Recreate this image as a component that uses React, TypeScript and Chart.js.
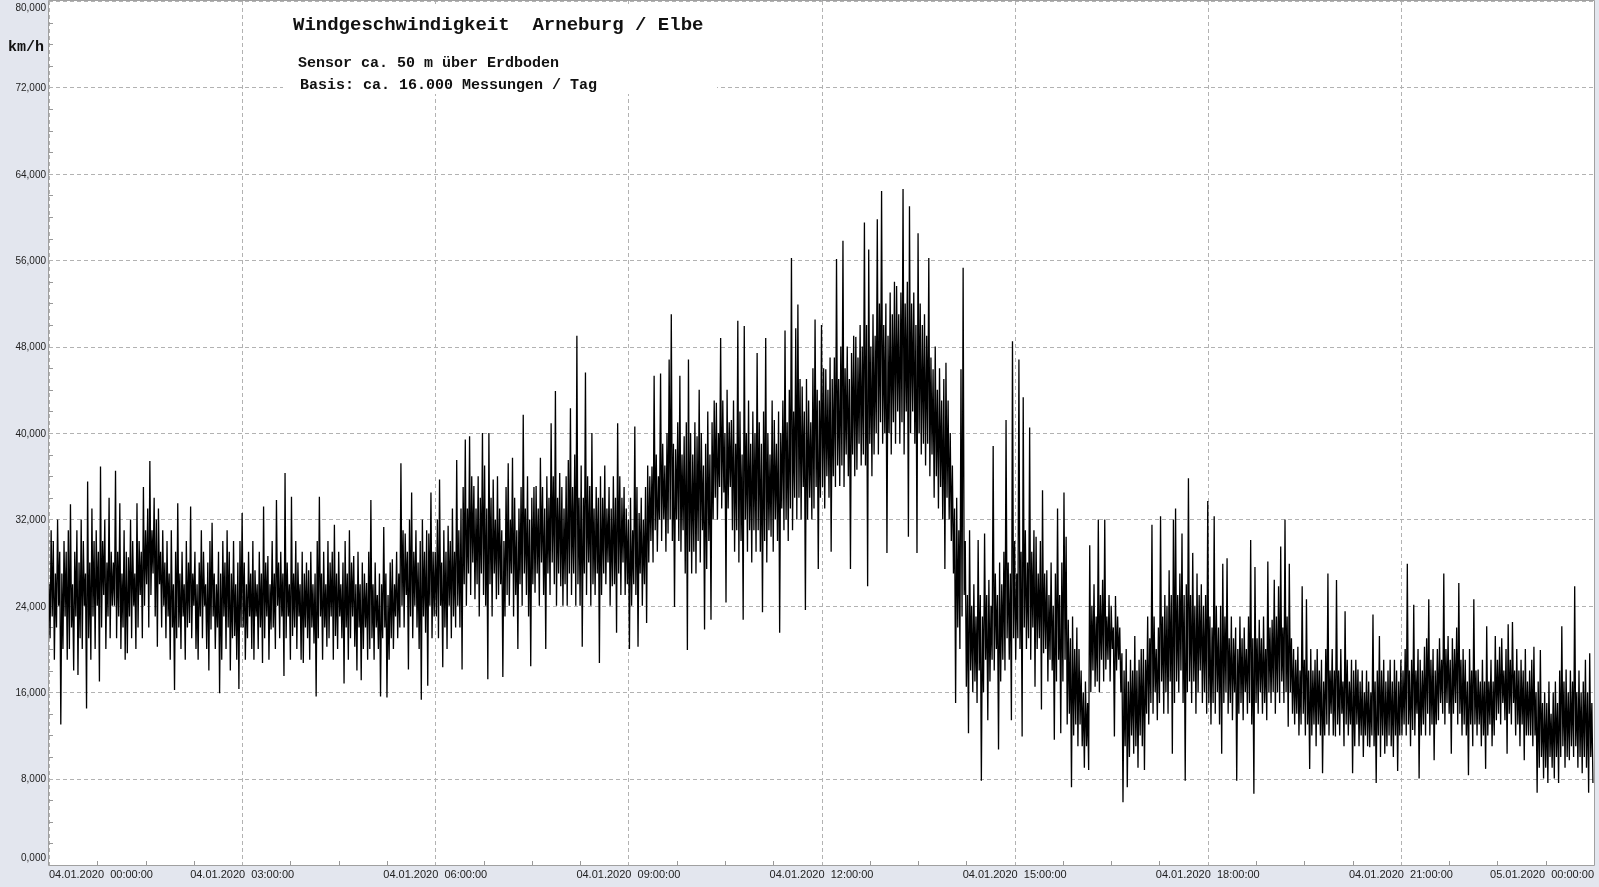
import React, { useEffect, useRef } from "react";
import { Chart, registerables } from "chart.js";

Chart.register(...registerables);

// ---- Data (km/h), one value per minute ----
// each hour: 60 samples (gust peak / lull pairs within each 2-minute slot)
const SAMPLE_STEP_MIN = 1;

const H00 = [26,21, 31,23, 30,19, 27,22, 32,24, 29,13, 27,20, 30,23, 29,19, 31,20, 33.4,22, 26,18, 29,23, 31,17.6, 28,21, 32,20, 30,24, 27,14.5, 35.5,21, 28,19, 33,23, 30,20, 31,24, 29,17, 36.9,22, 30,25, 32,20, 28,23, 34,21, 29,24];
const H01 = [28,24, 36.5,21, 29,23, 33.5,20, 27,22, 31,19, 29,19.6, 28.5,23, 32,21, 30,24, 27,20, 33.5,22, 30,25, 29,21, 35,24, 31,26, 33,22, 37.4,25, 31,27, 34,23, 32,20.2, 33,26, 29,22, 31,24, 28,21, 30,23, 27,19, 31,22, 26,16.2, 29,21];
const H02 = [33.5,22, 27,20, 29,23, 26,19, 30,22, 28,22.4, 33.2,21, 27,24, 29,20, 26,19, 28,23, 31,21, 29,24, 26,20, 28,18, 30,21.8, 31.7,23, 27,20, 26,22, 29,15.9, 27,19, 30,23, 28,20, 31,22, 29,18, 27,21, 30,21.2, 26,19, 28,16.3, 30,22];
const H03 = [32.6,22, 28,19, 26,21, 29,23, 27,20, 30,19, 27.3,23, 26,20, 29,22, 27,18.7, 33.2,21, 28,23, 28.6,19, 26,21.8, 30,22, 27,20, 33.8,24, 28,21, 29,23, 27,17.5, 36.3,21, 28,23, 26,19, 34.1,21.2, 27,22, 30,20, 28,23, 26,19, 29,18.7, 27,22];
const H04 = [28,21, 27.3,19, 29,22, 26,20.5, 27,15.6, 30,21, 34.1,23, 27,19, 29,22, 26,20.2, 30,21, 28,23, 29,19, 31.5,21.2, 27,20, 29,23, 26,21, 28,16.8, 30,22, 27,19, 31,21, 28,23, 28.6,20.2, 26,18, 29,22, 26,17.1, 28,20, 27,22, 26.1,19, 29,20];
const H05 = [33.8,21, 26,19, 28,22, 25,20, 27,15.6, 26,21, 31.3,22, 27,15.5, 25,19, 28,21, 28.3,20, 26,23, 29,21, 27,22, 37.2,24, 31,22, 30.7,25, 29,18.1, 32,23, 34.5,21, 29,24, 31,22, 28,20, 30,15.3, 32,23, 29,21.5, 31,16.6, 30.7,24, 34.5,21, 29,23];
const H06 = [29,23, 32,21, 35.7,24, 28,18.3, 31,22, 29,20, 31.4,24, 30,21, 33,23, 29,22, 37.5,24, 31,22, 33,18.1, 35,26, 39.4,24, 33,27, 39.7,25, 36,28, 35.1,24.6, 33,26, 36,23, 34,27, 40,25, 37,24, 33,17.2, 40,26, 34,23, 35.7,27, 32,24.6, 36,25];
const H07 = [33,26, 31,17.4, 30,23, 35,25, 37.2,24, 32,27, 37.7,23, 34,25, 31,20, 33,26, 35,24, 41.7,27, 33,25, 36,23, 32,18.4, 34,26, 35,25.2, 35.1,27, 33,24, 37.7,28, 35,25, 33,20, 36,27, 34,25, 40.9,28, 36,26, 43.9,24, 34,27, 36.3,25.8, 35,24];
const H08 = [33,26, 36,24, 37.5,27, 42.3,25, 35,27, 38,24, 49,26, 34,24, 37,20.2, 34,27, 45.6,25, 36,28, 35.1,24, 40,26, 33,25, 35,27, 34,18.7, 36,25, 34,27, 37,26, 33,28, 35,24, 33,25.8, 36,26, 34,21.5, 40.9,27, 36,25, 34,28, 35,25, 33,26];
const H09 = [32,20, 34,24, 31,26, 40.6,25, 35,20.2, 32.6,27, 34,24, 32,26, 35,22.4, 37,28, 36,30, 36.9,28, 45.3,31, 38,29, 36,32, 45.5,30, 39,32, 37,29, 40,30.7, 46.8,32, 51,30, 39,23.9, 38.5,32, 41,30, 45.3,29, 38,31, 39.7,27, 41,19.9, 46.8,29, 40,27];
const H10 = [38,29, 41,27, 39.7,30, 44,28, 40,31, 37,21.8, 39,27.4, 42,30, 38,22.7, 41,32, 43,34, 42.8,32, 40,35, 48.8,33, 43,34.5, 40,24.3, 44,33, 41,35, 41.2,31, 43,29, 39,31, 50.4,28, 42,30, 38,22.7, 49.9,32, 40,29, 43,31, 39,28, 42,31, 40,29];
const H11 = [47.4,31, 41,29, 39,23.4, 42,30, 48.8,28, 40,31, 38,30.4, 43,29, 41.2,32, 39,30, 42,21.5, 40,33, 43,31, 49.5,32, 41,30, 44,33, 56.2,31, 42,34, 49.7,32, 51.9,34, 45,32, 44.3,35, 42,23.6, 45,32, 43,34, 41,32, 46,33, 50.5,35, 44,27.4, 43,34];
const H12 = [50,35, 46,33, 45.9,36, 44,34, 47,29, 45,36, 47,35, 56.1,37, 45,35.1, 48,37, 57.8,35, 46,38, 48,36, 45,27.4, 47.4,38, 49,36, 48.9,36.6, 47,39, 50,37, 48,38, 59.5,37, 50,25.8, 57,39, 48,36, 51,38, 49,40, 59.8,38, 52,41, 62.4,39, 50,40];
const H13 = [52,28.9, 49,40, 53,38, 51,41, 54,39, 53.6,42, 51,39, 53,41, 62.6,38, 52,42, 54,30.4, 61,40, 52,42, 53,39, 50,28.9, 58.5,40, 52,38, 50,39, 51,37, 49,39, 56.2,36, 47,38, 45.9,34, 48,36, 44,33, 46,35, 43,32, 45,27.4, 46.5,34, 43,32];
const H14 = [40,30, 37,27, 33,15, 34,22, 31,20, 45.9,23, 55.3,25, 30,16.5, 25,12.2, 31,18, 24,16, 26,17, 23,15, 30.1,18, 25,7.8, 23,16, 30.7,19, 25,13.4, 26.4,17, 24,19, 38.8,18, 27,20, 25,10.7, 28,17, 26,19, 29,18, 41.2,21, 28,19, 27,13.4, 48.5,21];
const H15 = [30,19, 27,21, 46.8,20, 29,11.9, 43.3,22, 31,20, 28,21, 40.5,19, 29,22, 31,16.5, 30.4,20, 27,21, 30,14.4, 34.7,19.6, 27,20, 27.3,17, 25,19, 28,18, 24,11.6, 27,17, 33,19, 25,12.2, 28,17, 34.5,19, 30.4,13, 22.7,14, 21,7.2, 23,12, 20,13, 22,11];
const H16 = [20,13, 18,11, 16,9, 17,11, 15,8.8, 29.6,16, 24,18, 26,16.5, 23,17, 32,16, 25,19, 26.4,17, 32,18.1, 23,19, 25,17, 24,20, 22,11.9, 24.9,18, 23,19, 22,16, 19.6,5.8, 18,11, 20,7.2, 17,10, 19,12, 18,10.3, 21.2,11, 18,9, 19,12, 20,11];
const H17 = [20,8.8, 19,14, 23,13, 21,15, 31.5,14, 23,16, 20,13.4, 22,15, 32.3,17, 23,14, 25,16, 24,14, 27.3,17, 25,10.3, 32,15, 33,17, 25,16, 27,18, 30.7,15, 25,7.8, 26,16, 35.8,17, 25,15, 28.9,17, 24,14, 27,16, 25,18, 26,15, 24,16, 25,14];
const H18 = [33.7,15, 23,13, 22,15, 32.3,14, 24,16, 22,13, 24,10.3, 27.9,15, 23,16, 28.4,14, 21,15, 23,13.4, 21,16, 22,7.8, 20,14, 23,15, 21,13.4, 22,16, 20,14, 23,15, 30.1,13, 21,6.6, 27.6,15, 21,14, 22.7,16, 21,14, 23,15, 20,13.4, 28.1,16, 22,15];
const H19 = [22.7,16, 26.4,14, 23,16, 25.8,15, 29.5,17, 22,15, 32,16, 23,12.8, 27.9,16, 21,14, 20,13, 19,14, 20.2,12, 18,13, 25.8,14, 19,12, 24.6,13, 18,8.9, 20,12, 18,13, 19,11, 20,13, 18,12, 19,8.5, 17,12, 20,13, 27,12, 18,14, 20,12, 18,11.9];
const H20 = [26.4,13, 18,12, 20,14, 17,11, 23.5,13, 19,12, 17,13, 19,8.5, 18,11, 19,13, 18.1,11, 17,12, 18,10, 16,12, 18,11, 17,10.9, 16,12, 23.2,11, 17,7.6, 18,12, 21.2,10, 18,12, 19,10.3, 17,11, 18,12, 19,11, 17,10, 19,12, 18,8.7, 17,12];
const H21 = [19,12, 18,13, 20,12, 27.9,13, 18,11, 19,12.5, 24.1,12, 18,14, 20,8, 19,12, 18,13, 20.2,12, 21,14, 24.6,12, 19,13, 20,9.7, 18,13, 20,13.4, 21,15, 19,14, 27,13, 20,15, 21.2,14, 19,10.3, 21,14, 20,15, 22,13, 26.1,14, 19,12, 20,13];
const H22 = [19,12, 17,8.3, 20,13, 18,11, 24.6,13, 18,12, 18.1,13, 17,11, 19,12, 17,8.9, 22.1,12, 17,13, 19,11, 17,12, 21.2,13.4, 19,14, 20.2,13, 21,15, 18,13.4, 20,10.3, 22.3,14, 19,13, 22.5,15, 18,12, 20,13, 18,11, 19,13, 18,9.7, 20,12, 17,12];
const H23 = [18,12, 19,11, 20.2,12, 16,6.7, 17,9, 19.9,10, 15,8, 16,9, 15,7.6, 17,10, 14,9, 16,8, 17,10, 15,7.6, 18,10, 22.1,11, 17,9, 18.1,10, 16,9.7, 18,11, 17,10, 25.8,11, 16,9, 18,10, 16,8.5, 17,10, 19,9, 16,6.7, 19.6,10, 15,7.6];

const SPEED_KMH = [
  ...H00, ...H01, ...H02, ...H03, ...H04, ...H05, ...H06, ...H07,
  ...H08, ...H09, ...H10, ...H11, ...H12, ...H13, ...H14, ...H15,
  ...H16, ...H17, ...H18, ...H19, ...H20, ...H21, ...H22, ...H23,
];

// ---- Axes / texts ----
const X_TICK_MINUTES = [0, 180, 360, 540, 720, 900, 1080, 1260, 1440];
const X_TICK_LABELS = [
  "04.01.2020  00:00:00",
  "04.01.2020  03:00:00",
  "04.01.2020  06:00:00",
  "04.01.2020  09:00:00",
  "04.01.2020  12:00:00",
  "04.01.2020  15:00:00",
  "04.01.2020  18:00:00",
  "04.01.2020  21:00:00",
  "05.01.2020  00:00:00",
];
const Y_TICK_VALUES = [0, 8, 16, 24, 32, 40, 48, 56, 64, 72, 80];
const Y_MINOR_STEP = 2;
const X_MINOR_STEP_MIN = 45;

const TITLE = "Windgeschwindigkeit  Arneburg / Elbe";
const SUBTITLE_1 = "Sensor ca. 50 m über Erdboden";
const SUBTITLE_2 = "Basis: ca. 16.000 Messungen / Tag";
const UNIT = "km/h";

const PAGE_BG = "#e3e6ee";
const GRID = "#b2b2b2";
const AXIS = "#a0a0a0";
const MONO = "'Liberation Mono', 'Courier New', monospace";
const SANS = "'Liberation Sans', Arial, sans-serif";

const fmtY = (v: number) => v.toFixed(3).replace(".", ",");

const decorPlugin = {
  id: "decor",
  beforeDraw(chart: any) {
    const { ctx, chartArea: a, width, height } = chart;
    ctx.save();
    ctx.fillStyle = PAGE_BG;
    ctx.fillRect(0, 0, width, height);
    ctx.fillStyle = "#ffffff";
    ctx.fillRect(a.left, a.top, a.right - a.left, a.bottom - a.top);
    ctx.restore();
  },
  beforeDatasetsDraw(chart: any) {
    const { ctx, chartArea: a } = chart;
    const x = chart.scales.x;
    const y = chart.scales.y;
    ctx.save();
    ctx.lineWidth = 1;
    ctx.strokeStyle = GRID;
    ctx.setLineDash([4, 3]);
    for (const v of Y_TICK_VALUES) {
      const py = Math.round(y.getPixelForValue(v)) + 0.5;
      ctx.beginPath();
      ctx.moveTo(a.left, py);
      ctx.lineTo(a.right, py);
      ctx.stroke();
    }
    for (const m of X_TICK_MINUTES) {
      const px = Math.round(x.getPixelForValue(m)) + 0.5;
      ctx.beginPath();
      ctx.moveTo(px, a.top);
      ctx.lineTo(px, a.bottom);
      ctx.stroke();
    }
    ctx.setLineDash([]);
    ctx.strokeStyle = "#999999";
    for (let v = 0; v <= 80; v += Y_MINOR_STEP) {
      if (Y_TICK_VALUES.includes(v)) continue;
      const py = Math.round(y.getPixelForValue(v)) + 0.5;
      ctx.beginPath();
      ctx.moveTo(a.left, py);
      ctx.lineTo(a.left + 4, py);
      ctx.stroke();
    }
    for (let m = 0; m <= 1440; m += X_MINOR_STEP_MIN) {
      if (X_TICK_MINUTES.includes(m)) continue;
      const px = Math.round(x.getPixelForValue(m)) + 0.5;
      ctx.beginPath();
      ctx.moveTo(px, a.bottom);
      ctx.lineTo(px, a.bottom - 4);
      ctx.stroke();
    }
    // title block
    ctx.fillStyle = "#ffffff";
    ctx.fillRect(283, 4, 434, 90);
    ctx.fillStyle = "#111111";
    ctx.textAlign = "left";
    ctx.textBaseline = "alphabetic";
    ctx.font = `bold 19px ${MONO}`;
    ctx.fillText(TITLE, 293, 30);
    ctx.font = `bold 15px ${MONO}`;
    ctx.fillText(SUBTITLE_1, 298, 67);
    ctx.fillText(SUBTITLE_2, 300, 89);
    ctx.restore();
  },
  afterDatasetsDraw(chart: any) {
    const { ctx, chartArea: a } = chart;
    const y = chart.scales.y;
    ctx.save();
    ctx.strokeStyle = AXIS;
    ctx.lineWidth = 1;
    ctx.beginPath();
    ctx.moveTo(a.left - 0.5, a.top - 0.5);
    ctx.lineTo(a.right + 0.5, a.top - 0.5);
    ctx.lineTo(a.right + 0.5, a.bottom + 0.5);
    ctx.lineTo(a.left - 0.5, a.bottom + 0.5);
    ctx.closePath();
    ctx.stroke();
    // y labels
    ctx.fillStyle = "#222222";
    ctx.font = `10px ${SANS}`;
    ctx.textAlign = "right";
    ctx.textBaseline = "middle";
    for (const v of Y_TICK_VALUES) {
      const py = Math.min(Math.max(y.getPixelForValue(v) + 1, 8), 858);
      ctx.fillText(fmtY(v), a.left - 3, py);
    }
    // unit
    ctx.fillStyle = "#111111";
    ctx.font = `bold 15px ${MONO}`;
    ctx.textAlign = "left";
    ctx.textBaseline = "alphabetic";
    ctx.fillText(UNIT, 8, 51);
    ctx.restore();
  },
};

export default function App() {
  const ref = useRef<HTMLCanvasElement>(null);
  useEffect(() => {
    if (!ref.current) return;
    const points = SPEED_KMH.map((v, i) => ({ x: i * SAMPLE_STEP_MIN, y: v }));
    const chart = new Chart(ref.current, {
      type: "line",
      data: {
        datasets: [
          {
            data: points,
            borderColor: "#000000",
            borderWidth: 1.3,
            pointRadius: 0,
            tension: 0,
            fill: false,
          },
        ],
      },
      options: {
        animation: false,
        responsive: false,
        devicePixelRatio: 1,
        layout: { padding: { left: 0, right: 5, top: 1, bottom: 0 } },
        plugins: {
          legend: { display: false },
          tooltip: { enabled: false },
          title: { display: false },
        },
        events: [],
        scales: {
          x: {
            type: "linear",
            min: 0,
            max: 1440,
            grid: { display: false, drawTicks: false },
            border: { display: false },
            ticks: {
              stepSize: 180,
              autoSkip: false,
              maxRotation: 0,
              minRotation: 0,
              align: "inner",
              padding: 3,
              color: "#222222",
              font: { family: SANS, size: 11 },
              callback: (v: any) => {
                const i = X_TICK_MINUTES.indexOf(Number(v));
                return i >= 0 ? X_TICK_LABELS[i] : "";
              },
            },
            afterFit: (s: any) => {
              s.height = 22;
            },
          },
          y: {
            type: "linear",
            min: 0,
            max: 80,
            grid: { display: false, drawTicks: false },
            border: { display: false },
            ticks: { display: false, stepSize: 8 },
            afterFit: (s: any) => {
              s.width = 49;
            },
          },
        },
      } as any,
      plugins: [decorPlugin],
    });
    return () => chart.destroy();
  }, []);

  return (
    <div style={{ position: "fixed", left: 0, top: 0, width: 1599, height: 887, background: PAGE_BG }}>
      <canvas ref={ref} width={1599} height={887} style={{ display: "block", width: 1599, height: 887 }} />
    </div>
  );
}
